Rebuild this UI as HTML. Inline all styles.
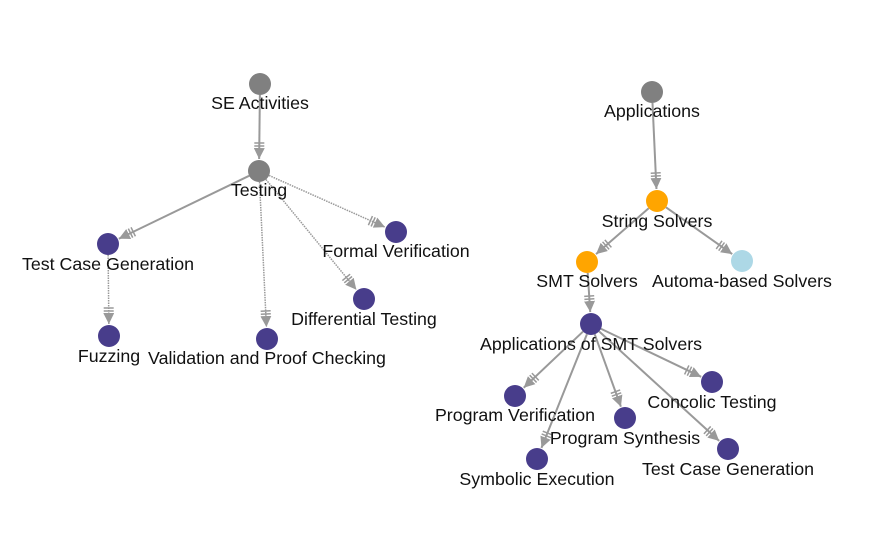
<!DOCTYPE html>
<html><head><meta charset="utf-8"><style>
html,body{margin:0;padding:0;background:#fff;width:883px;height:545px;overflow:hidden}
svg text{font-family:"Liberation Sans",Arial,sans-serif;font-size:17.8px;fill:#111;text-anchor:middle}
</style></head><body>
<svg id="s" width="883" height="545" viewBox="0 0 883 545">
<defs>
<marker id="ah" viewBox="0 0 10 10" refX="10" refY="5" markerWidth="11" markerHeight="11" markerUnits="userSpaceOnUse" orient="auto">
<path d="M0,0 L10,5 L0,10 z" fill="#999"/>
</marker>
</defs>
<g id="edges"></g>
<g id="nodes">
<circle cx="260" cy="84" r="11" fill="#808080"/>
<circle cx="259" cy="171" r="11" fill="#808080"/>
<circle cx="108" cy="244" r="11" fill="#483d8b"/>
<circle cx="109" cy="336" r="11" fill="#483d8b"/>
<circle cx="267" cy="339" r="11" fill="#483d8b"/>
<circle cx="364" cy="299" r="11" fill="#483d8b"/>
<circle cx="396" cy="232" r="11" fill="#483d8b"/>
<circle cx="652" cy="92" r="11" fill="#808080"/>
<circle cx="657" cy="201" r="11" fill="#ffa500"/>
<circle cx="587" cy="262" r="11" fill="#ffa500"/>
<circle cx="742" cy="261" r="11" fill="#add8e6"/>
<circle cx="591" cy="324" r="11" fill="#483d8b"/>
<circle cx="515" cy="396" r="11" fill="#483d8b"/>
<circle cx="537" cy="459" r="11" fill="#483d8b"/>
<circle cx="625" cy="418" r="11" fill="#483d8b"/>
<circle cx="712" cy="382" r="11" fill="#483d8b"/>
<circle cx="728" cy="449" r="11" fill="#483d8b"/>
</g>
<g id="labels">
<text x="260" y="109">SE Activities</text>
<text x="259" y="196">Testing</text>
<text x="108" y="270">Test Case Generation</text>
<text x="109" y="362">Fuzzing</text>
<text x="267" y="364">Validation and Proof Checking</text>
<text x="364" y="325">Differential Testing</text>
<text x="396" y="257">Formal Verification</text>
<text x="652" y="117">Applications</text>
<text x="657" y="227">String Solvers</text>
<text x="587" y="287">SMT Solvers</text>
<text x="742" y="287">Automa-based Solvers</text>
<text x="591" y="350">Applications of SMT Solvers</text>
<text x="515" y="421">Program Verification</text>
<text x="537" y="485">Symbolic Execution</text>
<text x="625" y="444">Program Synthesis</text>
<text x="712" y="408">Concolic Testing</text>
<text x="728" y="475">Test Case Generation</text>
</g>
</svg>
<script>
var E=[
[260,84,259,171,0],[259,171,108,244,0],[108,244,109,336,1],[259,171,267,339,1],
[259,171,364,299,1],[259,171,396,232,1],
[652,92,657,201,0],[657,201,587,262,0],[657,201,742,261,0],[587,262,591,324,0],
[591,324,515,396,0],[591,324,537,459,0],[591,324,625,418,0],[591,324,712,382,0],[591,324,728,449,0]];
var g=document.getElementById('edges'),ns='http://www.w3.org/2000/svg';
E.forEach(function(e){
 var dx=e[2]-e[0],dy=e[3]-e[1],L=Math.sqrt(dx*dx+dy*dy),ux=dx/L,uy=dy/L;
 var x1=e[0]+ux*11,y1=e[1]+uy*11,x2=e[2]-ux*12,y2=e[3]-uy*12;
 var l=document.createElementNS(ns,'line');
 l.setAttribute('x1',x1);l.setAttribute('y1',y1);l.setAttribute('x2',x2);l.setAttribute('y2',y2);
 l.setAttribute('stroke','#999');l.setAttribute('stroke-width',e[4]?1.5:2);
 if(e[4])l.setAttribute('stroke-dasharray','1.5,1');
 l.setAttribute('marker-end','url(#ah)');g.appendChild(l);
 [13,16].forEach(function(d){
  var cx=x2-ux*d,cy=y2-uy*d,px=-uy*5,py=ux*5;
  var t=document.createElementNS(ns,'line');
  t.setAttribute('x1',cx+px);t.setAttribute('y1',cy+py);t.setAttribute('x2',cx-px);t.setAttribute('y2',cy-py);
  t.setAttribute('stroke','#999');t.setAttribute('stroke-width',1.5);g.appendChild(t);
 });
});
</script>
</body></html>
